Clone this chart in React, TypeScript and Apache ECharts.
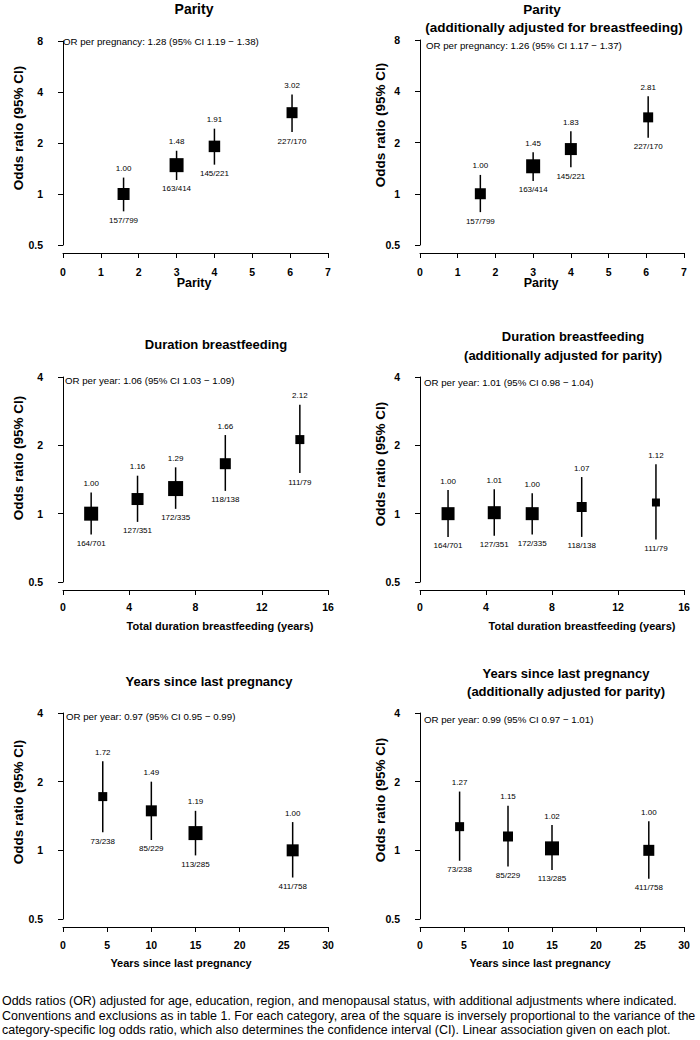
import React, { useEffect, useRef } from 'react';
import * as echarts from 'echarts';

const FONT = '"Liberation Sans", Arial, Helvetica, sans-serif';

// ---------- Data ----------
const parityX = [1.6, 3, 4, 6.05];
const parityCounts = ['157/799', '163/414', '145/221', '227/170'];
const parityOR = [1.0, 1.48, 1.91, 3.02];
const parityLo = [0.79, 1.21, 1.49, 2.32];
const parityHi = [1.25, 1.8, 2.43, 3.86];
const paritySize = [12, 14, 11.5, 11];

const parityAdjOR = [1.0, 1.45, 1.83, 2.81];
const parityAdjLo = [0.78, 1.19, 1.43, 2.13];
const parityAdjHi = [1.29, 1.75, 2.33, 3.74];
const parityAdjSize = [11, 14, 12, 10];

const bfX = [1.7, 4.5, 6.8, 9.8, 14.3];
const bfCounts = ['164/701', '127/351', '172/335', '118/138', '111/79'];
const bfOR = [1.0, 1.16, 1.29, 1.66, 2.12];
const bfLo = [0.81, 0.92, 1.05, 1.26, 1.51];
const bfHi = [1.24, 1.47, 1.6, 2.22, 3.02];
const bfSize = [14, 12, 15, 11, 9];

const bfAdjOR = [1.0, 1.01, 1.0, 1.07, 1.12];
const bfAdjLo = [0.79, 0.8, 0.81, 0.79, 0.77];
const bfAdjHi = [1.27, 1.28, 1.23, 1.45, 1.65];
const bfAdjSize = [13, 13, 13, 10, 8];

const ylpX = [4.5, 10, 15, 26];
const ylpCounts = ['73/238', '85/229', '113/285', '411/758'];
const ylpOR = [1.72, 1.49, 1.19, 1.0];
const ylpLo = [1.2, 1.11, 0.95, 0.76];
const ylpHi = [2.46, 2.0, 1.49, 1.33];
const ylpSize = [9, 11, 14, 12];

const ylpAdjOR = [1.27, 1.15, 1.02, 1.0];
const ylpAdjLo = [0.9, 0.85, 0.82, 0.75];
const ylpAdjHi = [1.81, 1.57, 1.29, 1.34];
const ylpAdjSize = [9, 10, 14, 11];

const trendTexts = [
  'OR per pregnancy: 1.28 (95% CI 1.19 \u2212 1.38)',
  'OR per pregnancy: 1.26 (95% CI 1.17 \u2212 1.37)',
  'OR per year: 1.06 (95% CI 1.03 \u2212 1.09)',
  'OR per year: 1.01 (95% CI 0.98 \u2212 1.04)',
  'OR per year: 0.97 (95% CI 0.95 \u2212 0.99)',
  'OR per year: 0.99 (95% CI 0.97 \u2212 1.01)',
];

const caption = [
  'Odds ratios (OR) adjusted for age, education, region, and menopausal status, with additional adjustments where indicated.',
  'Conventions and exclusions as in table 1. For each category, area of the square is inversely proportional to the variance of the',
  'category-specific log odds ratio, which also determines the confidence interval (CI). Linear association given on each plot.',
];

// ---------- Layout ----------
type PanelCfg = {
  x: number[]; or: number[]; lo: number[]; hi: number[]; size: number[]; counts: string[];
  grid: { left: number; top: number; width: number; height: number };
  xMax: number; xInterval: number; yMax: number; labelMargin: number;
  titles: { text: string; x: number; y: number }[]; titleSize: number;
  trend: { x: number; y: number };
  yName: { x: number; y: number };
  xName: { text: string; x: number; y: number; size: number };
};

const panels: PanelCfg[] = [
  {
    x: parityX, or: parityOR, lo: parityLo, hi: parityHi, size: paritySize, counts: parityCounts,
    grid: { left: 63, top: 41, width: 265, height: 204 }, xMax: 7, xInterval: 1, yMax: 8, labelMargin: 13,
    titles: [{ text: 'Parity', x: 194, y: 9 }], titleSize: 14,
    trend: { x: 63, y: 41 }, yName: { x: 18, y: 128 },
    xName: { text: 'Parity', x: 194, y: 283, size: 12.5 },
  },
  {
    x: parityX, or: parityAdjOR, lo: parityAdjLo, hi: parityAdjHi, size: parityAdjSize, counts: parityCounts,
    grid: { left: 420, top: 40, width: 264, height: 205 }, xMax: 7, xInterval: 1, yMax: 8, labelMargin: 13,
    titles: [
      { text: 'Parity', x: 542, y: 9 },
      { text: '(additionally adjusted for breastfeeding)', x: 554, y: 27 },
    ], titleSize: 13.5,
    trend: { x: 426, y: 45 }, yName: { x: 380, y: 125 },
    xName: { text: 'Parity', x: 541, y: 283, size: 12.5 },
  },
  {
    x: bfX, or: bfOR, lo: bfLo, hi: bfHi, size: bfSize, counts: bfCounts,
    grid: { left: 63, top: 377, width: 265, height: 205 }, xMax: 16, xInterval: 4, yMax: 4, labelMargin: 11,
    titles: [{ text: 'Duration breastfeeding', x: 216, y: 344 }], titleSize: 13,
    trend: { x: 65, y: 380 }, yName: { x: 18, y: 458 },
    xName: { text: 'Total duration breastfeeding (years)', x: 220, y: 626, size: 11 },
  },
  {
    x: bfX, or: bfAdjOR, lo: bfAdjLo, hi: bfAdjHi, size: bfAdjSize, counts: bfCounts,
    grid: { left: 420, top: 377, width: 264, height: 205 }, xMax: 16, xInterval: 4, yMax: 4, labelMargin: 11,
    titles: [
      { text: 'Duration breastfeeding', x: 573, y: 336 },
      { text: '(additionally adjusted for parity)', x: 563, y: 355 },
    ], titleSize: 13,
    trend: { x: 424, y: 382 }, yName: { x: 380, y: 464 },
    xName: { text: 'Total duration breastfeeding (years)', x: 582, y: 626, size: 11 },
  },
  {
    x: ylpX, or: ylpOR, lo: ylpLo, hi: ylpHi, size: ylpSize, counts: ylpCounts,
    grid: { left: 63, top: 713, width: 265, height: 206 }, xMax: 30, xInterval: 5, yMax: 4, labelMargin: 12,
    titles: [{ text: 'Years since last pregnancy', x: 209, y: 681 }], titleSize: 13,
    trend: { x: 66, y: 716 }, yName: { x: 18, y: 802 },
    xName: { text: 'Years since last pregnancy', x: 181, y: 963, size: 11 },
  },
  {
    x: ylpX, or: ylpAdjOR, lo: ylpAdjLo, hi: ylpAdjHi, size: ylpAdjSize, counts: ylpCounts,
    grid: { left: 420, top: 713, width: 264, height: 206 }, xMax: 30, xInterval: 5, yMax: 4, labelMargin: 12,
    titles: [
      { text: 'Years since last pregnancy', x: 566, y: 673 },
      { text: '(additionally adjusted for parity)', x: 566, y: 691 },
    ], titleSize: 13,
    trend: { x: 424, y: 719 }, yName: { x: 380, y: 800 },
    xName: { text: 'Years since last pregnancy', x: 540, y: 963, size: 11 },
  },
];

function buildOption() {
  const grids: any[] = [];
  const xAxes: any[] = [];
  const yAxes: any[] = [];
  const series: any[] = [];
  const graphics: any[] = [];

  panels.forEach((p, i) => {
    grids.push({ ...p.grid, containLabel: false });
    xAxes.push({
      type: 'value', gridIndex: i, min: 0, max: p.xMax, interval: p.xInterval, offset: 8,
      axisLine: { show: true, lineStyle: { color: '#000', width: 1 } },
      axisTick: { show: true, length: 5, lineStyle: { color: '#000' } },
      axisLabel: { color: '#000', fontFamily: FONT, fontWeight: 'bold', fontSize: 10.5, margin: p.labelMargin },
      splitLine: { show: false },
    });
    yAxes.push({
      type: 'log', logBase: 2, gridIndex: i, min: 0.5, max: p.yMax, splitNumber: Math.round(Math.log2(p.yMax / 0.5)),
      offset: 11,
      axisLine: { show: true, lineStyle: { color: '#000', width: 1 } },
      axisTick: { show: true, length: 5, lineStyle: { color: '#000' } },
      axisLabel: {
        color: '#000', fontFamily: FONT, fontWeight: 'bold', fontSize: 10.5, margin: 9,
        formatter: (v: number) => (v < 1 ? v.toFixed(1) : String(Math.round(v))),
      },
      splitLine: { show: false },
    });
    const data = p.x.map((x, k) => [x, p.or[k], p.lo[k], p.hi[k], p.size[k]]);
    const counts = p.counts;
    series.push({
      type: 'custom', xAxisIndex: i, yAxisIndex: i, coordinateSystem: 'cartesian2d', clip: false,
      encode: { x: 0, y: [1, 2, 3] },
      data,
      renderItem: (params: any, api: any) => {
        const x = api.value(0), or = api.value(1), lo = api.value(2), hi = api.value(3), s = api.value(4);
        const c = api.coord([x, or]);
        const cl = api.coord([x, lo]);
        const ch = api.coord([x, hi]);
        const txt = { fontFamily: FONT, fontSize: 8, fill: '#000', align: 'center', verticalAlign: 'middle' };
        return {
          type: 'group',
          children: [
            { type: 'line', shape: { x1: ch[0], y1: ch[1], x2: cl[0], y2: cl[1] }, style: { stroke: '#000', lineWidth: 1.5 } },
            { type: 'rect', shape: { x: c[0] - s / 2, y: c[1] - s / 2, width: s, height: s }, style: { fill: '#000' } },
            { type: 'text', x: ch[0], y: ch[1] - 9, style: { ...txt, text: or.toFixed(2) } },
            { type: 'text', x: cl[0], y: cl[1] + 9, style: { ...txt, text: counts[params.dataIndex] } },
          ],
        };
      },
    });

    p.titles.forEach((t) => {
      graphics.push({
        type: 'text', x: t.x, y: t.y,
        style: { text: t.text, fontFamily: FONT, fontWeight: 'bold', fontSize: p.titleSize, fill: '#000', align: 'center', verticalAlign: 'middle' },
      });
    });
    graphics.push({
      type: 'text', x: p.trend.x, y: p.trend.y,
      style: { text: trendTexts[i], fontFamily: FONT, fontSize: 9.7, fill: '#000', align: 'left', verticalAlign: 'middle' },
    });
    graphics.push({
      type: 'text', x: p.yName.x, y: p.yName.y, rotation: Math.PI / 2,
      style: { text: 'Odds ratio (95% CI)', fontFamily: FONT, fontWeight: 'bold', fontSize: 13.5, fill: '#000', align: 'center', verticalAlign: 'middle' },
    });
    graphics.push({
      type: 'text', x: p.xName.x, y: p.xName.y,
      style: { text: p.xName.text, fontFamily: FONT, fontWeight: 'bold', fontSize: p.xName.size, fill: '#000', align: 'center', verticalAlign: 'middle' },
    });
  });

  caption.forEach((line, k) => {
    graphics.push({
      type: 'text', x: 2, y: 1001 + k * 14.5,
      style: { text: line, fontFamily: FONT, fontSize: 12.45, fill: '#000', align: 'left', verticalAlign: 'middle' },
    });
  });

  return {
    animation: false,
    backgroundColor: '#fff',
    grid: grids,
    xAxis: xAxes,
    yAxis: yAxes,
    series,
    graphic: graphics,
  };
}

export default function App() {
  const ref = useRef<HTMLDivElement>(null);
  useEffect(() => {
    if (!ref.current) return;
    const chart = echarts.init(ref.current, undefined, { renderer: 'svg' });
    chart.setOption(buildOption() as any);
    return () => chart.dispose();
  }, []);
  return (
    <div
      ref={ref}
      style={{ position: 'absolute', left: 0, top: 0, width: 700, height: 1040, background: '#fff' }}
    />
  );
}
